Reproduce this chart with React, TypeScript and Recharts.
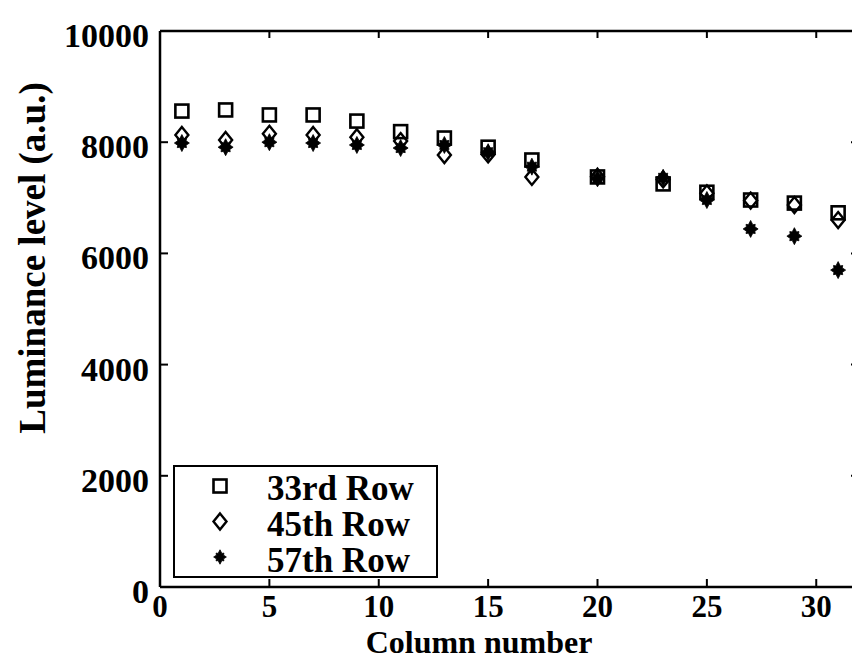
import React from "react";
import {
  ScatterChart,
  Scatter,
  XAxis,
  YAxis,
  Legend,
  ReferenceLine,
} from "recharts";

const columns = [1, 3, 5, 7, 9, 11, 13, 15, 17, 20, 23, 25, 27, 29, 31];
const row33 = [8560, 8580, 8490, 8490, 8380, 8190, 8075, 7910, 7680, 7375, 7250, 7100, 6960, 6905, 6730];
const row45 = [8130, 8040, 8150, 8130, 8090, 8020, 7770, 7780, 7375, 7380, 7330, 7080, 6950, 6870, 6600];
const row57 = [7985, 7910, 8000, 7985, 7950, 7895, 7950, 7820, 7560, 7350, 7360, 6960, 6440, 6310, 5700];
const seriesNames = ["33rd Row", "45th Row", "57th Row"];
const xTicks = [0, 5, 10, 15, 20, 25, 30];
const yTicks = [0, 2000, 4000, 6000, 8000, 10000];
const xLabel = "Column number";
const yLabel = "Luminance level (a.u.)";

const toPoints = (vals: number[]) => columns.map((c, i) => ({ x: c, y: vals[i] }));
const d33 = toPoints(row33);
const d45 = toPoints(row45);
const d57 = toPoints(row57);

const FONT = "'Liberation Serif', 'Times New Roman', serif";
const PLOT_H = 556;
const PLOT_W = 700;

const squareEl = (cx: number, cy: number) => (
  <rect x={cx - 6.5} y={cy - 6.5} width={13} height={13} fill="none" stroke="#000" strokeWidth={2.6} />
);
const diamondEl = (cx: number, cy: number) => (
  <path
    d={`M${cx},${cy - 8} L${cx + 6.5},${cy} L${cx},${cy + 8} L${cx - 6.5},${cy} Z`}
    fill="none"
    stroke="#000"
    strokeWidth={2.4}
  />
);
const starPath = (cx: number, cy: number, s: number) => {
  const pts = [
    [0, -8.5], [2.2, -4.2], [4.6, -4.6], [4.2, -2.2], [7.5, 0], [4.2, 2.2], [4.6, 4.6], [2.2, 4.2],
    [0, 8.5], [-2.2, 4.2], [-4.6, 4.6], [-4.2, 2.2], [-7.5, 0], [-4.2, -2.2], [-4.6, -4.6], [-2.2, -4.2],
  ];
  return pts.map((q, i) => `${i === 0 ? "M" : "L"}${cx + q[0] * s},${cy + q[1] * s}`).join(" ") + " Z";
};
const starEl = (cx: number, cy: number, s: number) => (
  <g>
    <path d={starPath(cx, cy, s)} fill="#000" stroke="#000" strokeWidth={0.8} />
    <circle cx={cx} cy={cy} r={4.2 * s} fill="#000" />
  </g>
);

const SquareShape = (p: any) => squareEl(p.cx, p.cy);
const DiamondShape = (p: any) => diamondEl(p.cx, p.cy);
const StarShape = (p: any) => starEl(p.cx, p.cy, 1);

const XTick = (props: any) => {
  const { x, y, payload } = props;
  return (
    <g>
      <line x1={x} y1={y} x2={x} y2={y - 8} stroke="#000" strokeWidth={2} />
      <line x1={x} y1={y - PLOT_H} x2={x} y2={y - PLOT_H + 7} stroke="#000" strokeWidth={2} />
      <text x={x} y={y + 30} textAnchor="middle" fontFamily={FONT} fontWeight="bold" fontSize={31} fill="#000">
        {payload.value}
      </text>
    </g>
  );
};

const YTick = (props: any) => {
  const { x, y, payload } = props;
  return (
    <g>
      <line x1={x} y1={y} x2={x + 8} y2={y} stroke="#000" strokeWidth={2} />
      <line x1={x + PLOT_W} y1={y} x2={x + PLOT_W - 9} y2={y} stroke="#000" strokeWidth={2} />
      <text x={x - 11} y={y + 16} textAnchor="end" fontFamily={FONT} fontWeight="bold" fontSize={34} fill="#000">
        {payload.value}
      </text>
    </g>
  );
};

const legendSymbols = [
  (cx: number, cy: number) => squareEl(cx, cy),
  (cx: number, cy: number) => diamondEl(cx, cy),
  (cx: number, cy: number) => starEl(cx, cy, 0.85),
];

const renderLegend = () => (
  <svg width={265} height={113} style={{ overflow: "visible", display: "block" }}>
    <rect x={1} y={1} width={263} height={111} fill="#fff" stroke="#000" strokeWidth={2} />
    {seriesNames.map((n, i) => (
      <g key={n}>
        {legendSymbols[i](47, 21 + i * 35.5)}
        <text x={94} y={35 + i * 36} fontFamily={FONT} fontWeight="bold" fontSize={35} fill="#000">
          {n}
        </text>
      </g>
    ))}
  </svg>
);

export default function App() {
  return (
    <div style={{ position: "absolute", left: 0, top: 0, width: 852, height: 660, overflow: "hidden", background: "#fff" }}>
      <ScatterChart width={862} height={660} margin={{ top: 31, right: 2, bottom: 43, left: 100 }}>
        <XAxis
          type="number"
          dataKey="x"
          domain={[0, 32]}
          ticks={xTicks}
          height={30}
          tickSize={0}
          tickMargin={0}
          tickLine={false}
          tick={<XTick />}
          axisLine={{ stroke: "#000", strokeWidth: 2.5 }}
          allowDataOverflow
        />
        <YAxis
          type="number"
          dataKey="y"
          domain={[0, 10000]}
          ticks={yTicks}
          width={60}
          tickSize={0}
          tickMargin={0}
          tickLine={false}
          tick={<YTick />}
          axisLine={{ stroke: "#000", strokeWidth: 2.5 }}
          allowDataOverflow
        />
        <ReferenceLine y={10000} stroke="#000" strokeWidth={2.5} />
        <ReferenceLine x={32} stroke="#000" strokeWidth={2.5} />
        <Legend
          layout="vertical"
          align="center"
          verticalAlign="middle"
          content={renderLegend}
          wrapperStyle={{ left: 173, top: 465, width: 265, height: 113 }}
        />
        <Scatter name={seriesNames[0]} data={d33} shape={SquareShape} isAnimationActive={false} />
        <Scatter name={seriesNames[1]} data={d45} shape={DiamondShape} isAnimationActive={false} />
        <Scatter name={seriesNames[2]} data={d57} shape={StarShape} isAnimationActive={false} />
      </ScatterChart>
      <svg width={852} height={660} style={{ position: "absolute", left: 0, top: 0, pointerEvents: "none" }}>
        <text
          transform="translate(45,258) rotate(-90)"
          textAnchor="middle"
          fontFamily={FONT}
          fontWeight="bold"
          fontSize={37}
          fill="#000"
        >
          {yLabel}
        </text>
        <text x={479} y={653} textAnchor="middle" fontFamily={FONT} fontWeight="bold" fontSize={32} fill="#000">
          {xLabel}
        </text>
      </svg>
    </div>
  );
}
